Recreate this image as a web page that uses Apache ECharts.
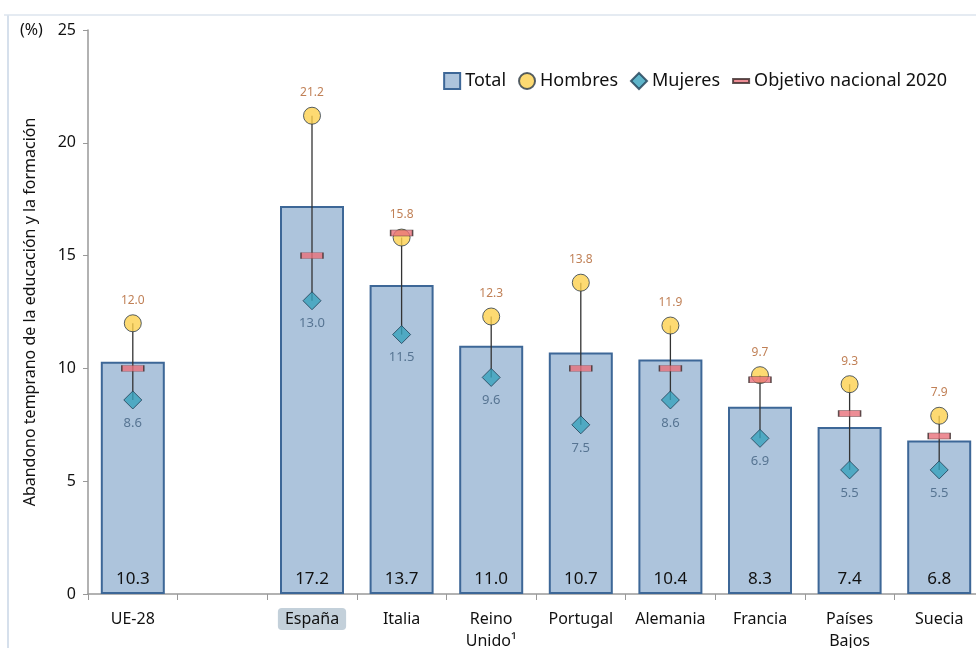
<!DOCTYPE html>
<html>
<head>
<meta charset="utf-8">
<script src="https://cdn.jsdelivr.net/npm/echarts@6/dist/echarts.min.js"></script>
<style>
  html, body { margin: 0; padding: 0; background: #fff; overflow: hidden; }
  #chart { width: 976px; height: 648px; }
</style>
</head>
<body>
<div id="chart"></div>
<script>
  // datos (el hueco tras UE-28 es una categoría vacía)
  const categories = ['UE-28', '', 'España', 'Italia', 'Reino\nUnido¹', 'Portugal', 'Alemania', 'Francia', 'Países\nBajos', 'Suecia'];
  const total = [10.3, null, 17.2, 13.7, 11.0, 10.7, 10.4, 8.3, 7.4, 6.8];
  const hombres = [12.0, null, 21.2, 15.8, 12.3, 13.8, 11.9, 9.7, 9.3, 7.9];
  const mujeres = [8.6, null, 13.0, 11.5, 9.6, 7.5, 8.6, 6.9, 5.5, 5.5];
  const objetivo = [10, null, 15, 16, null, 10, 10, 9.5, 8, 7];
  const yTicks = [0, 5, 10, 15, 20, 25];

  const font = 'Noto Sans';
  const toData = arr => arr.map(v => (v == null ? '-' : v));

  // línea vertical entre hombres y mujeres
  const rangeData = [];
  categories.forEach((c, i) => {
    if (hombres[i] != null) rangeData.push([i, hombres[i], mujeres[i]]);
  });

  let myChart = echarts.init(document.getElementById('chart'));
  myChart.setOption({
    animation: false,
    textStyle: { fontFamily: font },
    grid: { left: 88, right: -8, top: 30, bottom: 54, outerBoundsMode: 'none', containLabel: false },
    legend: {
      top: 67,
      right: 24,
      itemGap: 12,
      itemWidth: 16,
      itemHeight: 16,
      textStyle: { fontSize: 18, color: '#111', fontFamily: font },
      data: [
        { name: 'Total', icon: 'rect' },
        { name: 'Hombres', icon: 'circle' },
        { name: 'Mujeres', icon: 'diamond' },
        { name: 'Objetivo nacional 2020', icon: 'path://M0,6 L16,6 L16,10 L0,10 Z' }
      ]
    },
    graphic: [
      { type: 'line', shape: { x1: 8, y1: 15, x2: 8, y2: 648 }, style: { stroke: '#c9d6e6', lineWidth: 1.5 } },
      { type: 'line', shape: { x1: 4, y1: 15, x2: 976, y2: 15 }, style: { stroke: '#dde4ee', lineWidth: 1.5 } },
      { type: 'text', left: 20, top: 22, style: { text: '(%)', fontSize: 16, fill: '#111', fontFamily: font } }
    ],
    xAxis: {
      type: 'category',
      data: categories,
      axisLine: { lineStyle: { color: '#999', width: 1.5 } },
      axisTick: { show: true, length: 6, lineStyle: { color: '#999' } },
      axisLabel: {
        interval: 0,
        margin: 14,
        fontSize: 16,
        lineHeight: 22,
        color: '#111',
        formatter: v => (v === 'España' ? '{hl|España}' : v),
        rich: {
          hl: { backgroundColor: '#c3d0da', borderRadius: 4, padding: [3, 7, 3, 7], fontSize: 16, color: '#111' }
        }
      }
    },
    yAxis: {
      type: 'value',
      min: 0,
      max: 25,
      interval: 5,
      name: 'Abandono temprano de la educación y la formación',
      nameLocation: 'middle',
      nameGap: 50,
      nameTextStyle: { fontSize: 16, color: '#111' },
      splitLine: { show: false },
      axisLine: { show: true, lineStyle: { color: '#999', width: 1.5 } },
      axisTick: { show: true, length: 5, lineStyle: { color: '#999' } },
      axisLabel: {
        fontSize: 16,
        color: '#111',
        margin: 12,
        formatter: v => (yTicks.includes(v) ? String(v) : '')
      }
    },
    series: [
      {
        name: 'Total',
        type: 'bar',
        barWidth: 64,
        data: toData(total),
        itemStyle: { color: '#adc4dc', borderColor: '#3d6797', borderWidth: 2 },
        label: {
          show: true,
          position: 'insideBottom',
          distance: 6,
          fontSize: 17,
          color: '#111',
          formatter: p => p.value.toFixed(1)
        },
        z: 1
      },
      {
        name: 'rango',
        type: 'custom',
        data: rangeData,
        renderItem: function (params, api) {
          const p1 = api.coord([api.value(0), api.value(1)]);
          const p2 = api.coord([api.value(0), api.value(2)]);
          return {
            type: 'line',
            shape: { x1: p1[0], y1: p1[1], x2: p2[0], y2: p2[1] },
            style: { stroke: '#333', lineWidth: 1.3 }
          };
        },
        z: 2,
        silent: true
      },
      {
        name: 'Hombres',
        type: 'scatter',
        symbol: 'circle',
        symbolSize: 17,
        data: toData(hombres),
        itemStyle: { color: '#fdd14f', borderColor: '#2b3a4a', borderWidth: 1 },
        label: {
          show: true,
          position: 'top',
          distance: 8,
          fontSize: 12,
          color: '#b0602c',
          formatter: p => p.value.toFixed(1)
        },
        z: 3
      },
      {
        name: 'Mujeres',
        type: 'scatter',
        symbol: 'diamond',
        symbolSize: 18,
        data: toData(mujeres),
        itemStyle: { color: '#37a3bd', borderColor: '#1f3f55', borderWidth: 1 },
        label: {
          show: true,
          position: 'bottom',
          distance: 7,
          fontSize: 13,
          color: '#41607f',
          formatter: p => p.value.toFixed(1)
        },
        z: 4
      },
      {
        name: 'Objetivo nacional 2020',
        type: 'scatter',
        symbol: 'rect',
        symbolSize: [22, 6],
        data: toData(objetivo),
        itemStyle: { color: '#e8707a', borderColor: '#3a2a2a', borderWidth: 0.8 },
        z: 5
      }
    ]
  });
</script>
</body>
</html>
